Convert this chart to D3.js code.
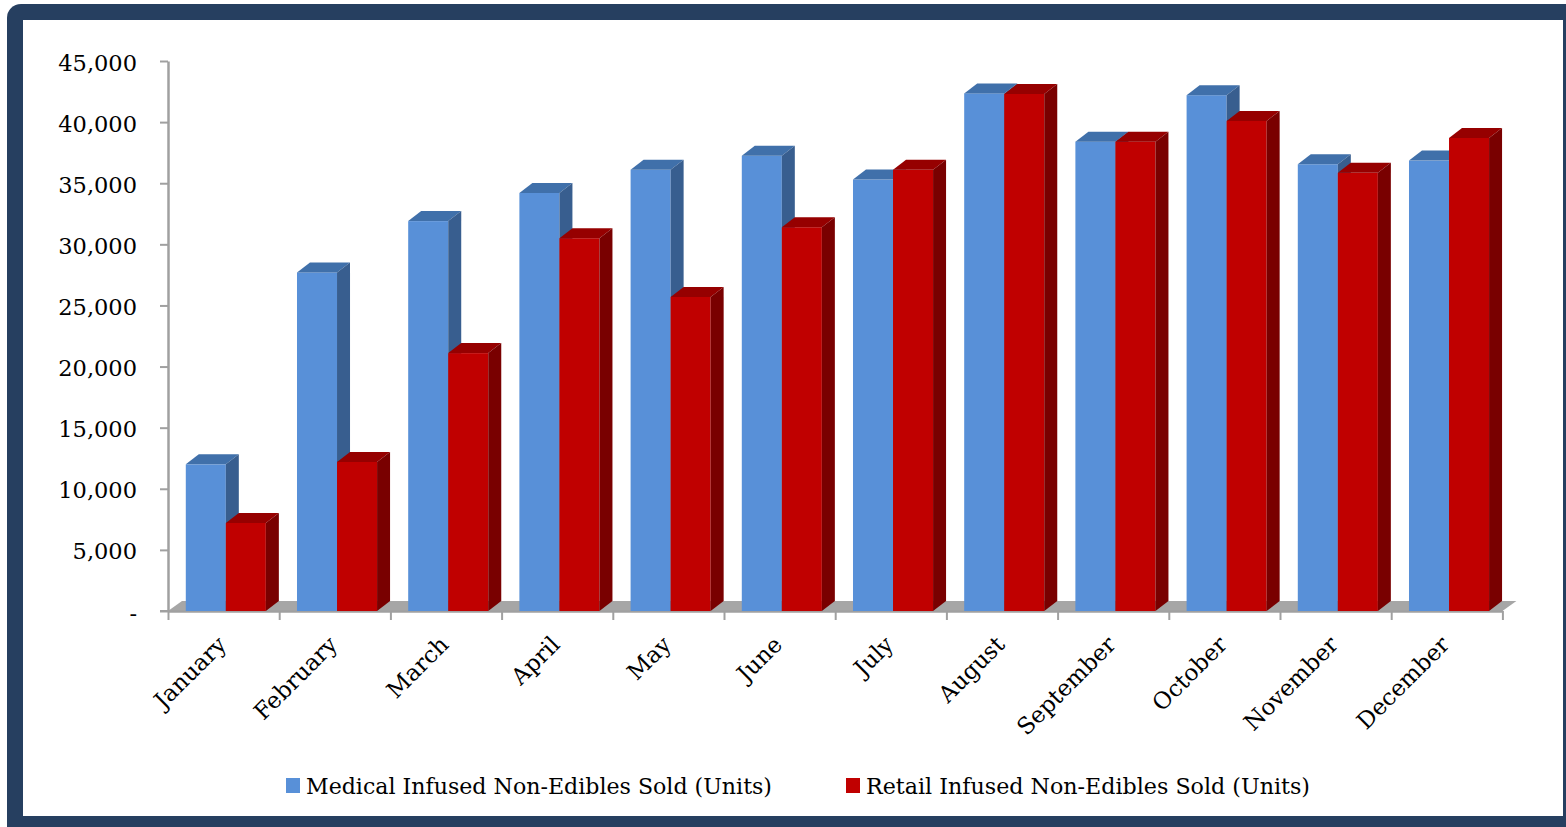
<!DOCTYPE html>
<html>
<head>
<meta charset="utf-8">
<script src="https://cdn.jsdelivr.net/npm/d3@7"></script>
<style>
  body { margin: 0; background: #fff; }
  svg { display: block; }
</style>
</head>
<body>
<svg id="chart"></svg>
<script>
  const months = ['January', 'February', 'March', 'April', 'May', 'June', 'July',
    'August', 'September', 'October', 'November', 'December'];
  const medical = [12000, 27700, 31900, 34200, 36100, 37250, 35300, 42350, 38400, 42200, 36550, 36850];
  const retail = [7200, 12200, 21100, 30500, 25700, 31400, 36100, 42300, 38400, 40100, 35850, 38700];
  const seriesNames = ['Medical Infused Non-Edibles Sold (Units)', 'Retail Infused Non-Edibles Sold (Units)'];
  const yTicks = [0, 5000, 10000, 15000, 20000, 25000, 30000, 35000, 40000, 45000];

  const width = 1566, height = 827;
  const plot = {left: 168, right: 1502.4, top: 61, bottom: 611};
  const depth = {dx: 13, dy: -10};

  // front / top / side shades per series
  const shades = [
    {front: '#5890d8', top: '#4070aa', side: '#385e8f'},
    {front: '#c00000', top: '#960000', side: '#790000'}
  ];

  const svg = d3.select('#chart')
    .attr('width', width)
    .attr('height', height);

  // frame
  svg.append('rect').attr('width', width).attr('height', height).attr('fill', '#fff');
  svg.append('rect')
    .attr('x', 7).attr('y', 4)
    .attr('width', 1620).attr('height', 900)
    .attr('rx', 14)
    .attr('fill', '#263f60');
  svg.append('rect')
    .attr('x', 23).attr('y', 20)
    .attr('width', 1540).attr('height', 796)
    .attr('fill', '#fff');

  const y = d3.scaleLinear()
    .domain([0, 45000])
    .range([plot.bottom, plot.top]);

  const x = d3.scaleBand()
    .domain(months)
    .range([plot.left, plot.right])
    .padding(0);

  const bw = x.bandwidth();
  const barW = bw * 0.36;
  const barOff = bw * 0.16;

  // floor
  svg.append('polygon')
    .attr('points', [
      [plot.left, plot.bottom],
      [plot.left + depth.dx + 1, plot.bottom + depth.dy],
      [plot.right + depth.dx + 1, plot.bottom + depth.dy],
      [plot.right, plot.bottom]
    ].map(p => p.join(',')).join(' '))
    .attr('fill', '#a6a6a6');

  // y axis
  const yAxis = svg.append('g')
    .attr('transform', `translate(${plot.left},0)`)
    .call(d3.axisLeft(y)
      .tickValues(yTicks)
      .tickSize(8)
      .tickSizeOuter(0)
      .tickPadding(23)
      .tickFormat(d => d === 0 ? '-' : d3.format(',')(d)));
  yAxis.select('.domain').attr('stroke', '#a0a0a0').attr('stroke-width', 2.5);
  yAxis.selectAll('.tick line').attr('stroke', '#a0a0a0').attr('stroke-width', 2);
  yAxis.selectAll('.tick text')
    .attr('fill', '#000')
    .style('font-family', '"DejaVu Serif", serif')
    .style('font-size', '22.5px')
    .attr('dy', '0.4em');

  // x axis: ticks on band edges
  const edge = d3.scaleLinear().domain([0, months.length]).range([plot.left, plot.right]);
  const xAxis = svg.append('g')
    .attr('transform', `translate(0,${plot.bottom})`)
    .call(d3.axisBottom(edge)
      .tickValues(d3.range(months.length + 1))
      .tickSize(9)
      .tickSizeOuter(0)
      .tickFormat(''));
  xAxis.select('.domain').attr('stroke', '#a0a0a0').attr('stroke-width', 2.5);
  xAxis.selectAll('.tick line').attr('stroke', '#a0a0a0').attr('stroke-width', 2);

  svg.append('line')
    .attr('x1', plot.left - 8).attr('x2', plot.left)
    .attr('y1', plot.bottom).attr('y2', plot.bottom)
    .attr('stroke', '#a0a0a0').attr('stroke-width', 2);

  // bars
  const bars = [];
  months.forEach((m, i) => {
    [medical[i], retail[i]].forEach((v, s) => {
      bars.push({month: m, s: s, v: v});
    });
  });

  const g = svg.append('g');
  bars.forEach(d => {
    const x0 = x(d.month) + barOff + d.s * barW;
    const yt = y(d.v), yb = y(0);
    const c = shades[d.s];
    g.append('rect')
      .attr('x', x0).attr('y', yt)
      .attr('width', barW).attr('height', yb - yt)
      .attr('fill', c.front);
    g.append('polygon')
      .attr('points', [[x0, yt], [x0 + depth.dx, yt + depth.dy], [x0 + barW + depth.dx, yt + depth.dy], [x0 + barW, yt]]
        .map(p => p.join(',')).join(' '))
      .attr('fill', c.top);
    g.append('polygon')
      .attr('points', [[x0 + barW, yt], [x0 + barW + depth.dx, yt + depth.dy], [x0 + barW + depth.dx, yb + depth.dy], [x0 + barW, yb]]
        .map(p => p.join(',')).join(' '))
      .attr('fill', c.side);
  });

  // month labels
  svg.selectAll('.month-label')
    .data(months)
    .enter()
    .append('text')
      .attr('class', 'month-label')
      .attr('transform', d => `translate(${x(d) + bw / 2 + 4},${plot.bottom + 35}) rotate(-45)`)
      .attr('text-anchor', 'end')
      .style('font-family', '"DejaVu Serif", serif')
      .style('font-size', '23px')
      .attr('fill', '#000')
      .text(d => d);

  // legend
  const legendPos = [{sq: 286, tx: 306, len: 466}, {sq: 846, tx: 866, len: 444}];
  seriesNames.forEach((name, s) => {
    svg.append('rect')
      .attr('x', legendPos[s].sq).attr('y', 778)
      .attr('width', 14).attr('height', 15)
      .attr('fill', shades[s].front);
    svg.append('text')
      .attr('x', legendPos[s].tx).attr('y', 794)
      .attr('textLength', legendPos[s].len)
      .attr('lengthAdjust', 'spacingAndGlyphs')
      .style('font-family', '"DejaVu Serif", serif')
      .style('font-size', '23px')
      .attr('fill', '#000')
      .text(name);
  });
</script>
</body>
</html>
